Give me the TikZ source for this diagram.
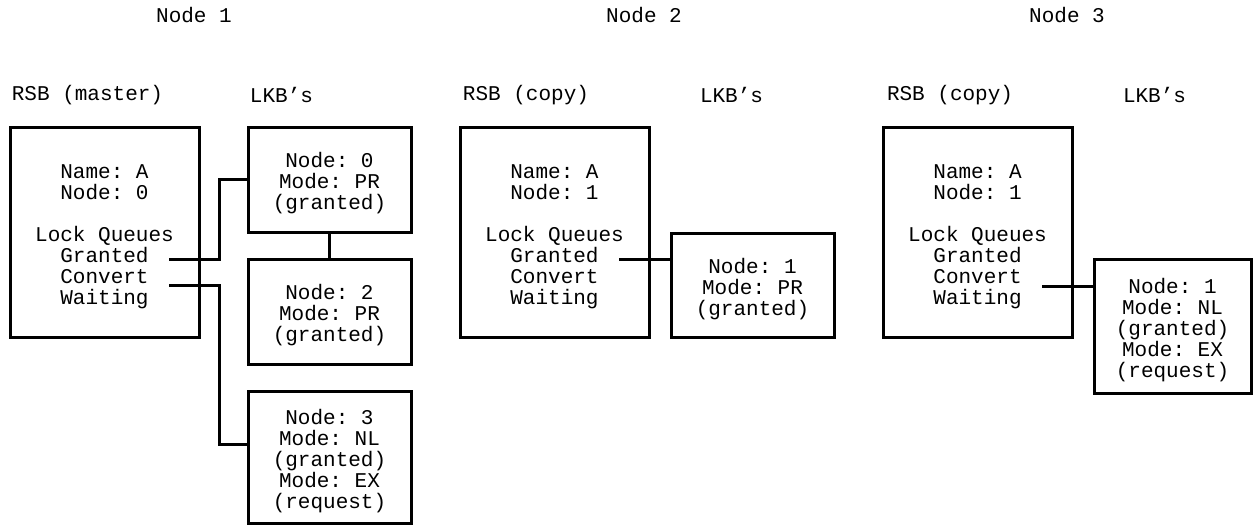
\documentclass[tikz,border=0pt]{standalone}
\usepackage{fontspec}
\setmonofont{Liberation Mono}
\newcommand{\firstgap}{\rule{0pt}{11.5pt}}

\begin{document}
\begin{tikzpicture}[x=0.5pt,y=-0.5pt,
    txt/.style={font=\ttfamily\fontsize{10.5pt}{10.5pt}\selectfont, inner sep=0pt},
    rsb/.style={txt, draw, line width=1.5pt, align=center, minimum width=94.5pt, minimum height=105pt},
    lkb/.style={txt, draw, line width=1.5pt, align=center, minimum width=81.5pt},
    link/.style={line width=1.5pt}]
		\useasboundingbox (0,0) rectangle (1253,525);

		% node titles
		\node[txt] (title1) at (194,15) {Node 1};
		\node[txt] (title2) at (644,15) {Node 2};
		\node[txt] (title3) at (1067,15) {Node 3};

		% column headers
		\node[txt] (headA) at (87.5,95) {RSB (master)};
		\node[txt] (lheadA) at (281.5,95) {LKB’s};
		\node[txt] (headB) at (526,95) {RSB (copy)};
		\node[txt] (lheadB) at (731.5,95) {LKB’s};
		\node[txt] (headC) at (950,95) {RSB (copy)};
		\node[txt] (lheadC) at (1154.5,95) {LKB’s};

		% node 1
		\node[rsb] (rsbA) at (104.5,232) {\firstgap Name: A\\Node: 0\\[10.5pt]Lock Queues\\Granted\\Convert\\Waiting};
		\node[lkb, minimum height=52.5pt] (lkbA0) at (329.5,179.5) {\firstgap Node: 0\\Mode: PR\\(granted)};
		\node[lkb, minimum height=52.5pt] (lkbA2) at (329.5,311.5) {\firstgap Node: 2\\Mode: PR\\(granted)};
		\node[lkb, minimum height=66pt] (lkbA3) at (329.5,457) {\firstgap Node: 3\\Mode: NL\\(granted)\\Mode: EX\\(request)};
		\coordinate (gA) at (169,259);
		\coordinate (cA) at (169,285);
		\draw[link] (gA) -| ([xshift=-13.5pt]lkbA0.west) -- (lkbA0.west);
		\draw[link] (lkbA0.south) -- (lkbA2.north);
		\draw[link] (cA) -| ([xshift=-13.5pt,yshift=6.5pt]lkbA3.west) -- ([yshift=6.5pt]lkbA3.west);

		% node 2
		\node[rsb] (rsbB) at (554.5,232) {\firstgap Name: A\\Node: 1\\[10.5pt]Lock Queues\\Granted\\Convert\\Waiting};
		\node[lkb, minimum height=52pt] (lkbB) at (752.5,285) {\firstgap Node: 1\\Mode: PR\\(granted)};
		\coordinate (gB) at (619,259);
		\draw[link] (gB) -- (gB -| lkbB.west);

		% node 3
		\node[rsb] (rsbC) at (977.5,232) {\firstgap Name: A\\Node: 1\\[10.5pt]Lock Queues\\Granted\\Convert\\Waiting};
		\node[lkb, minimum width=78.5pt, minimum height=67pt] (lkbC) at (1172.5,326) {\firstgap Node: 1\\Mode: NL\\(granted)\\Mode: EX\\(request)};
		\coordinate (wC) at (1042,286);
		\draw[link] (wC) -- (wC -| lkbC.west);
\end{tikzpicture}
\end{document}
